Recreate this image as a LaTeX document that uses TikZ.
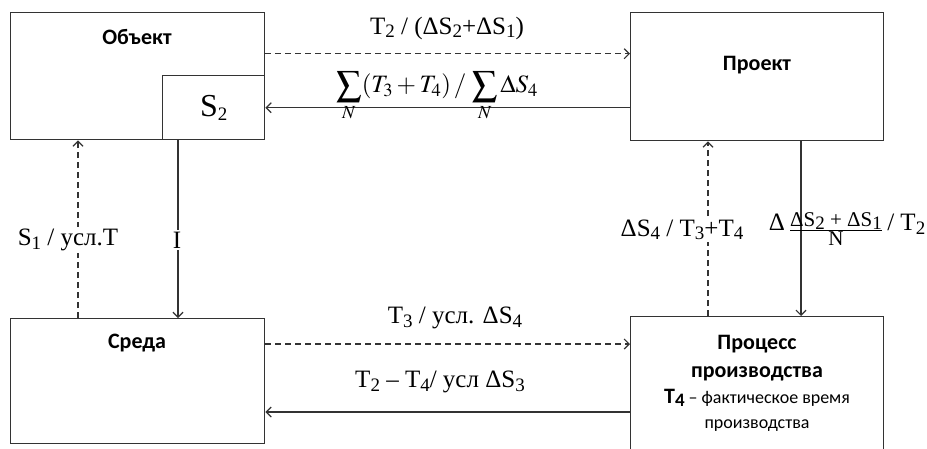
\documentclass[tikz,border=0pt]{standalone}
\usepackage{mathptmx}
\usepackage{fontspec}
\setmainfont{Liberation Serif}
\newfontfamily\boxfont{Carlito}
\usetikzlibrary{arrows.meta, positioning}
\newcommand{\ix}[1]{\raisebox{-0.3ex}{\fontsize{19pt}{19pt}\selectfont #1}}

\begin{document}
\begin{tikzpicture}[x=1pt, y=-1pt,
  box/.style={draw=black!80, line width=1.4pt, inner sep=0pt, anchor=north west},
  ttl/.style={font=\boxfont\bfseries\fontsize{22pt}{28pt}\selectfont, align=center},
  lbl/.style={font=\fontsize{25pt}{30pt}\selectfont, inner sep=2pt},
  wlbl/.style={lbl, fill=white},
  arr/.style={draw=black!80, line width=1.2pt, -{Straight Barb[length=5pt, width=10pt]}},
  darr/.style={arr, dash pattern=on 6pt off 4pt}
]
  \useasboundingbox[fill=white] (0,0) rectangle (927,448);

  % boxes
  \node[box, minimum width=254pt, minimum height=127pt] (obj) at (10,12) {};
  \node[box, minimum width=102pt, minimum height=64pt,
        font=\fontsize{32pt}{32pt}\selectfont] (s2) at (162,75) {S\ix{2}};
  \node[box, minimum width=253pt, minimum height=128pt] (proj) at (630,12) {};
  \node[box, minimum width=254pt, minimum height=125pt] (env) at (10,318) {};
  \node[box, minimum width=253pt, minimum height=150pt] (proc) at (630,316) {};

  % box texts
  \node[ttl] (objT) at (137,37) {Объект};
  \node[ttl] (projT) at (757,65) {Проект};
  \node[ttl] (envT) at (137,343) {Среда};
  \node[ttl] (procT) at (757,383) {Процесс\\производства\\[-2pt]
    {\fontsize{18pt}{25pt}\selectfont{\fontsize{22pt}{25pt}\selectfont T\ix{4}}\mdseries\ – фактическое время}\\[-3pt]
    {\fontsize{18pt}{25pt}\selectfont\mdseries производства}};

  % connectors
  \draw[darr] ([yshift=22.5pt]obj.east) -- ([yshift=22.5pt]obj.east -| proj.west);
  \draw[arr] (s2.east -| proj.west) -- (s2.east);
  \draw[darr] ([xshift=68pt]env.north west) -- ([xshift=68pt]obj.south west);
  \draw[arr] ([xshift=16pt]s2.south west) -- ([xshift=16pt]s2.south west |- env.north);
  \draw[darr] ([xshift=78pt]proc.north west) -- ([xshift=78pt]proc.north west |- proj.south);
  \draw[arr] ([xshift=171pt]proj.south west) -- ([xshift=171pt]proj.south west |- proc.north);
  \draw[darr] ([yshift=-26pt]env.north east) -- ([yshift=-26pt]env.north east -| proc.west);
  \draw[arr] ([yshift=-96pt]proc.north west) -- ([yshift=-96pt]proc.north west -| env.east);

  % labels
  \node[lbl] (lTop) at (447,28) {T\ix{2} / (ΔS\ix{2}+ΔS\ix{1})};
  \node[lbl] (lSum) at (437,96) {$\displaystyle\sum\limits_{N}(T_3+T_4)\,/\,\sum\limits_{N}\Delta S_4$};
  \node[wlbl] (lLeft) at (68,240) {S\ix{1} / усл.T};
  \node[wlbl] (lI) at (177,240) {I};
  \node[wlbl] (lRight) at (682,230) {ΔS\ix{4} / T\ix{3}+T\ix{4}};
  \node[lbl, inner sep=0pt] (lFrac) at (847,229) {\raisebox{6pt}{Δ}\,$\frac{\mbox{\fontsize{21pt}{22pt}\selectfont ΔS\ix{2} + ΔS\ix{1}}}{\mbox{\fontsize{21pt}{22pt}\selectfont N}}$\,\raisebox{6pt}{/ T\ix{2}}};
  \node[lbl] (lBot1) at (455,318) {T\ix{3} / усл. ΔS\ix{4}};
  \node[lbl] (lBot2) at (440,382) {T\ix{2} -- T\ix{4}/ усл ΔS\ix{3}};
\end{tikzpicture}
\end{document}
